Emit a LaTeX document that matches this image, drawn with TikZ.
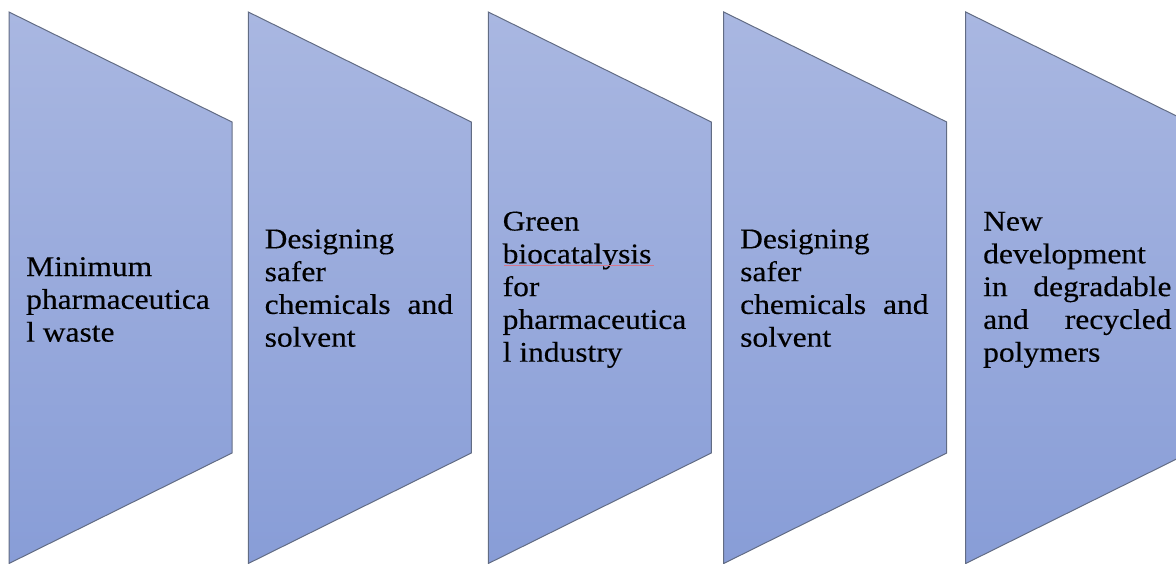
\documentclass[tikz,border=0pt]{standalone}
\usepackage{fontspec}
\setmainfont{Liberation Serif}[FakeBold=0.3]
\definecolor{stagetop}{RGB}{169,183,225}
\definecolor{stagebot}{RGB}{136,157,215}
\definecolor{stageedge}{RGB}{98,108,132}
\definecolor{spellmark}{RGB}{214,118,140}
\begin{document}
\begin{tikzpicture}[x=1pt,y=-1pt,
  stage/.style={draw=stageedge, line width=1pt, top color=stagetop,
    bottom color=stagebot, line join=miter},
  label/.style={inner sep=0pt, anchor=base west,
    font=\fontsize{28.5}{32.8}\selectfont},
]
% page frame
\useasboundingbox (0,0) rectangle (1176,563);
\clip (0,0) rectangle (1176,563);

% five funnel stages, each narrowing to the right
\foreach \x in {9,248.3,488.3,723.7,965.7}{
  \path[stage] (\x,12) -- (\x+223,122) -- (\x+223,453) -- (\x,563.5) -- cycle;
}

% stage texts, stretched sideways and set to a fixed column width
\newcommand{\stagetext}[1]{\scalebox{1.105}[1]{\parbox[t]{170.4pt}{#1}}}

\node[label] (s1) at (26,276)
  {\stagetext{Minimum\\pharmaceutica\\l waste}};
\node[label] (s2) at (264.5,248.3)
  {\stagetext{Designing\\safer\\chemicals\hfill and\\solvent}};
\node[label] (s3) at (502.5,230.5)
  {\stagetext{Green\\biocatalysis\\for\\pharmaceutica\\l industry}};
\node[label] (s4) at (740,248.3)
  {\stagetext{Designing\\safer\\chemicals\hfill and\\solvent}};
\node[label] (s5) at (983,230.5)
  {\stagetext{New\\development\\in\hfill degradable\\and\hfill recycled\\polymers}};

% proofing underline beneath "biocatalysis"
\draw[spellmark, line width=0.8pt] (504,265) -- (654,265);
\end{tikzpicture}
\end{document}
